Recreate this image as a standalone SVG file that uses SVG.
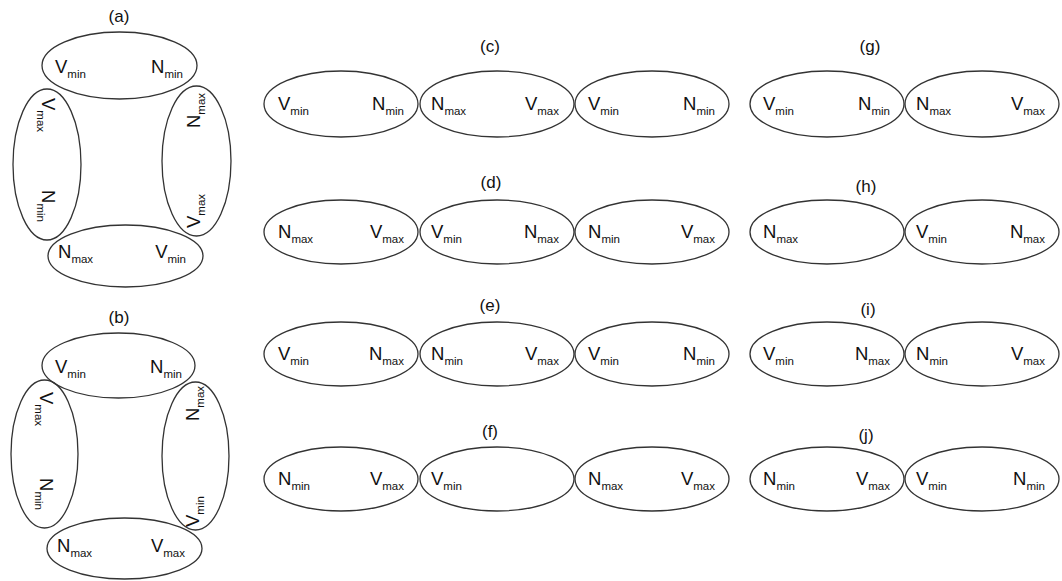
<svg xmlns="http://www.w3.org/2000/svg" width="1062" height="581" viewBox="0 0 1062 581">
<style>
.e{fill:none;stroke:#333;stroke-width:1.3}
.t{font-family:"Liberation Sans",Arial,sans-serif;font-size:18.5px;fill:#111}
.s{font-size:11.5px}
.l{font-family:"Liberation Sans",Arial,sans-serif;font-size:17px;fill:#111;text-anchor:middle}
.r{text-anchor:end}
</style>
<rect width="1062" height="581" fill="#fff"/>
<g id="panel-a">
<text class="l" x="119" y="22">(a)</text>
<g id="a-top"><ellipse class="e" cx="119.5" cy="65.5" rx="77.5" ry="33.5"/>
<text class="t" x="55" y="73">V<tspan class="s" dy="5">min</tspan></text>
<text class="t r" x="183" y="73">N<tspan class="s" dy="5">min</tspan></text></g>
<g id="a-left"><ellipse class="e" cx="47" cy="164.5" rx="34" ry="75.5"/>
<text class="t" transform="translate(42,98) rotate(90)">V<tspan class="s" dy="5">max</tspan></text>
<text class="t" transform="translate(42,190) rotate(90)">N<tspan class="s" dy="5">min</tspan></text></g>
<g id="a-right"><ellipse class="e" cx="196.5" cy="161" rx="34.5" ry="75"/>
<text class="t" transform="translate(200,128) rotate(-90)">N<tspan class="s" dy="5">max</tspan></text>
<text class="t" transform="translate(200,228) rotate(-90)">V<tspan class="s" dy="5">max</tspan></text></g>
<g id="a-bottom"><ellipse class="e" cx="125.5" cy="256" rx="77.5" ry="31"/>
<text class="t" x="58" y="258">N<tspan class="s" dy="5">max</tspan></text>
<text class="t r" x="186" y="258">V<tspan class="s" dy="5">min</tspan></text></g>
</g>
<g id="panel-b">
<text class="l" x="119" y="323">(b)</text>
<g id="b-top"><ellipse class="e" cx="118.5" cy="365.5" rx="76.5" ry="32.5"/>
<text class="t" x="55" y="373">V<tspan class="s" dy="5">min</tspan></text>
<text class="t r" x="182" y="373">N<tspan class="s" dy="5">min</tspan></text></g>
<g id="b-left"><ellipse class="e" cx="44.5" cy="454" rx="33.5" ry="74"/>
<text class="t" transform="translate(40,392) rotate(90)">V<tspan class="s" dy="5">max</tspan></text>
<text class="t" transform="translate(40,478) rotate(90)">N<tspan class="s" dy="5">min</tspan></text></g>
<g id="b-right"><ellipse class="e" cx="195.5" cy="456" rx="33.5" ry="74"/>
<text class="t" transform="translate(199,421) rotate(-90)">N<tspan class="s" dy="5">max</tspan></text>
<text class="t" transform="translate(199,527) rotate(-90)">V<tspan class="s" dy="5">min</tspan></text></g>
<g id="b-bottom"><ellipse class="e" cx="124.5" cy="548.5" rx="77.5" ry="30.5"/>
<text class="t" x="57" y="552">N<tspan class="s" dy="5">max</tspan></text>
<text class="t r" x="185" y="552">V<tspan class="s" dy="5">max</tspan></text></g>
</g>
<g id="panel-c">
<text class="l" x="490" y="52">(c)</text>
<g id="c1"><ellipse class="e" cx="341" cy="104" rx="77" ry="33"/>
<text class="t" x="278" y="110">V<tspan class="s" dy="5">min</tspan></text>
<text class="t r" x="404" y="110">N<tspan class="s" dy="5">min</tspan></text></g>
<g id="c2"><ellipse class="e" cx="497" cy="104" rx="77" ry="33"/>
<text class="t" x="431" y="110">N<tspan class="s" dy="5">max</tspan></text>
<text class="t r" x="559" y="110">V<tspan class="s" dy="5">max</tspan></text></g>
<g id="c3"><ellipse class="e" cx="652" cy="104" rx="77" ry="33"/>
<text class="t" x="588" y="110">V<tspan class="s" dy="5">min</tspan></text>
<text class="t r" x="715" y="110">N<tspan class="s" dy="5">min</tspan></text></g>
</g>
<g id="panel-d">
<text class="l" x="491" y="188">(d)</text>
<g id="d1"><ellipse class="e" cx="341" cy="232" rx="77" ry="32"/>
<text class="t" x="278" y="238">N<tspan class="s" dy="5">max</tspan></text>
<text class="t r" x="404" y="238">V<tspan class="s" dy="5">max</tspan></text></g>
<g id="d2"><ellipse class="e" cx="497" cy="232" rx="77" ry="32"/>
<text class="t" x="431" y="238">V<tspan class="s" dy="5">min</tspan></text>
<text class="t r" x="559" y="238">N<tspan class="s" dy="5">max</tspan></text></g>
<g id="d3"><ellipse class="e" cx="652" cy="232" rx="77" ry="32"/>
<text class="t" x="588" y="238">N<tspan class="s" dy="5">min</tspan></text>
<text class="t r" x="715" y="238">V<tspan class="s" dy="5">max</tspan></text></g>
</g>
<g id="panel-e">
<text class="l" x="490" y="311">(e)</text>
<g id="e1"><ellipse class="e" cx="341" cy="354" rx="77" ry="32"/>
<text class="t" x="278" y="360">V<tspan class="s" dy="5">min</tspan></text>
<text class="t r" x="404" y="360">N<tspan class="s" dy="5">max</tspan></text></g>
<g id="e2"><ellipse class="e" cx="497" cy="354" rx="77" ry="32"/>
<text class="t" x="431" y="360">N<tspan class="s" dy="5">min</tspan></text>
<text class="t r" x="559" y="360">V<tspan class="s" dy="5">max</tspan></text></g>
<g id="e3"><ellipse class="e" cx="652" cy="354" rx="77" ry="32"/>
<text class="t" x="588" y="360">V<tspan class="s" dy="5">min</tspan></text>
<text class="t r" x="715" y="360">N<tspan class="s" dy="5">min</tspan></text></g>
</g>
<g id="panel-f">
<text class="l" x="490" y="437">(f)</text>
<g id="f1"><ellipse class="e" cx="341" cy="479" rx="77" ry="32"/>
<text class="t" x="278" y="485">N<tspan class="s" dy="5">min</tspan></text>
<text class="t r" x="404" y="485">V<tspan class="s" dy="5">max</tspan></text></g>
<g id="f2"><ellipse class="e" cx="497" cy="479" rx="77" ry="32"/>
<text class="t" x="431" y="485">V<tspan class="s" dy="5">min</tspan></text></g>
<g id="f3"><ellipse class="e" cx="652" cy="479" rx="77" ry="32"/>
<text class="t" x="588" y="485">N<tspan class="s" dy="5">max</tspan></text>
<text class="t r" x="715" y="485">V<tspan class="s" dy="5">max</tspan></text></g>
</g>
<g id="panel-g">
<text class="l" x="870" y="52">(g)</text>
<g id="g1"><ellipse class="e" cx="827" cy="104" rx="77" ry="33"/>
<text class="t" x="763" y="110">V<tspan class="s" dy="5">min</tspan></text>
<text class="t r" x="890" y="110">N<tspan class="s" dy="5">min</tspan></text></g>
<g id="g2"><ellipse class="e" cx="982" cy="104" rx="77" ry="33"/>
<text class="t" x="916" y="110">N<tspan class="s" dy="5">max</tspan></text>
<text class="t r" x="1045" y="110">V<tspan class="s" dy="5">max</tspan></text></g>
</g>
<g id="panel-h">
<text class="l" x="866" y="192">(h)</text>
<g id="h1"><ellipse class="e" cx="827" cy="232" rx="77" ry="32"/>
<text class="t" x="763" y="238">N<tspan class="s" dy="5">max</tspan></text></g>
<g id="h2"><ellipse class="e" cx="982" cy="232" rx="77" ry="32"/>
<text class="t" x="916" y="238">V<tspan class="s" dy="5">min</tspan></text>
<text class="t r" x="1045" y="238">N<tspan class="s" dy="5">max</tspan></text></g>
</g>
<g id="panel-i">
<text class="l" x="868" y="315">(i)</text>
<g id="i1"><ellipse class="e" cx="827" cy="354" rx="77" ry="32"/>
<text class="t" x="763" y="360">V<tspan class="s" dy="5">min</tspan></text>
<text class="t r" x="890" y="360">N<tspan class="s" dy="5">max</tspan></text></g>
<g id="i2"><ellipse class="e" cx="982" cy="354" rx="77" ry="32"/>
<text class="t" x="916" y="360">N<tspan class="s" dy="5">min</tspan></text>
<text class="t r" x="1045" y="360">V<tspan class="s" dy="5">max</tspan></text></g>
</g>
<g id="panel-j">
<text class="l" x="866" y="441">(j)</text>
<g id="j1"><ellipse class="e" cx="827" cy="479" rx="77" ry="32"/>
<text class="t" x="763" y="485">N<tspan class="s" dy="5">min</tspan></text>
<text class="t r" x="890" y="485">V<tspan class="s" dy="5">max</tspan></text></g>
<g id="j2"><ellipse class="e" cx="982" cy="479" rx="77" ry="32"/>
<text class="t" x="916" y="485">V<tspan class="s" dy="5">min</tspan></text>
<text class="t r" x="1045" y="485">N<tspan class="s" dy="5">min</tspan></text></g>
</g>
<g id="connectors"/>
</svg>
